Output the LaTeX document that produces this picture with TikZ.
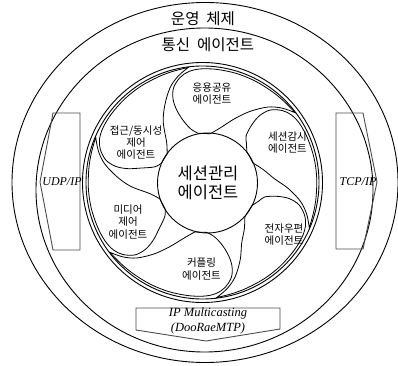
\documentclass[tikz,border=0pt]{standalone}
\usepackage{fontspec}
\setmainfont{Liberation Serif}
\newfontfamily\kr{Noto Sans CJK KR}
\newcommand{\mypetal}[2]{%
  \begin{scope}[shift={(202.5,182.5)}, rotate=#1]
    \draw[petal] plot[smooth, tension=0.55] coordinates {
      ({95}:{#2}) ({102}:{#2+5}) (107:64) (109.5:76) (109.5:88) (107:99)
      (102:107.5) (97:111.8) (91:113.6) (83:114) (73:114.2) (63:114.3)
      (53:114.5) (45:115) (37:116)}
      -- plot[smooth, tension=0.55] coordinates {
      (37:116) (43:109) (49:100) (56:86) (63:72) ({72}:{#2+8}) ({81}:{#2})}
      -- cycle;
  \end{scope}}
\begin{document}
\begin{tikzpicture}[x=1pt, y=1pt, line width=0.9pt,
  lbl/.style={font=\kr\fontsize{10.5}{12.3}\selectfont, align=center, inner sep=0pt},
  big/.style={font=\kr\fontsize{15.5}{18}\selectfont, inner sep=0pt},
  proto/.style={font=\itshape\fontsize{12}{15}\selectfont, align=center, inner sep=0pt},
  pbox/.style={draw=black!70, line width=0.9pt},
  petal/.style={draw=black, line width=0.8pt}]
\useasboundingbox (0,0) rectangle (398,365);

% outer ellipses
\draw (205,182.5) ellipse [x radius=193, y radius=180];
\draw (204.5,175) ellipse [x radius=168.5, y radius=162];

% double ring
\draw (202.5,182.5) circle [radius=120];
\draw (202.5,182.5) circle [radius=116.5];

% centre circle
\draw (207.5,182) circle [radius=50];

% petals
\mypetal{0}{49.4}
\mypetal{-60}{54.1}
\mypetal{-120}{54.5}
\mypetal{-180}{50.1}
\mypetal{-240}{45.7}
\mypetal{-300}{45.5}

% protocol boxes
\draw[pbox] (80,252) -- (53,252) -- (40,183) -- (53,115) -- (80,115) -- cycle;
\draw[pbox] (336,252) -- (363,252) -- (377,183) -- (363,116) -- (336,116) -- cycle;
\draw[pbox] (136,57) -- (280,57) -- (280,36) -- (206,24) -- (136,35) -- cycle;

% labels
\node[big] (os) at (203,346) {운영\hspace{0.45em}체제};
\node[big] (comm) at (208,320) {통신\hspace{0.45em}에이전트};
\node[font=\kr\fontsize{16.5}{19}\selectfont, align=center, inner sep=0pt] (sess) at (208,182.5) {세션관리\\에이전트};
\node[lbl] (share) at (212,271.5) {응용공유\\에이전트};
\node[lbl] (watch) at (287.5,222.5) {세션감시\\에이전트};
\node[lbl] (mail) at (284,130.5) {전자우편\\에이전트};
\node[lbl] (coup) at (201.5,96) {커플링\\에이전트};
\node[lbl] (media) at (128,143) {미디어\\제어\\에이전트};
\node[lbl] (acc) at (136,222.5) {접근/동시성\\제어\\에이전트};
\node[proto] (udp) at (62,183) {UDP/IP};
\node[proto] (tcp) at (358,183) {TCP/IP};
\node[proto, font=\itshape\fontsize{12.5}{15}\selectfont] (mc) at (208,44) {IP Multicasting\\(DooRaeMTP)};
\end{tikzpicture}
\end{document}
